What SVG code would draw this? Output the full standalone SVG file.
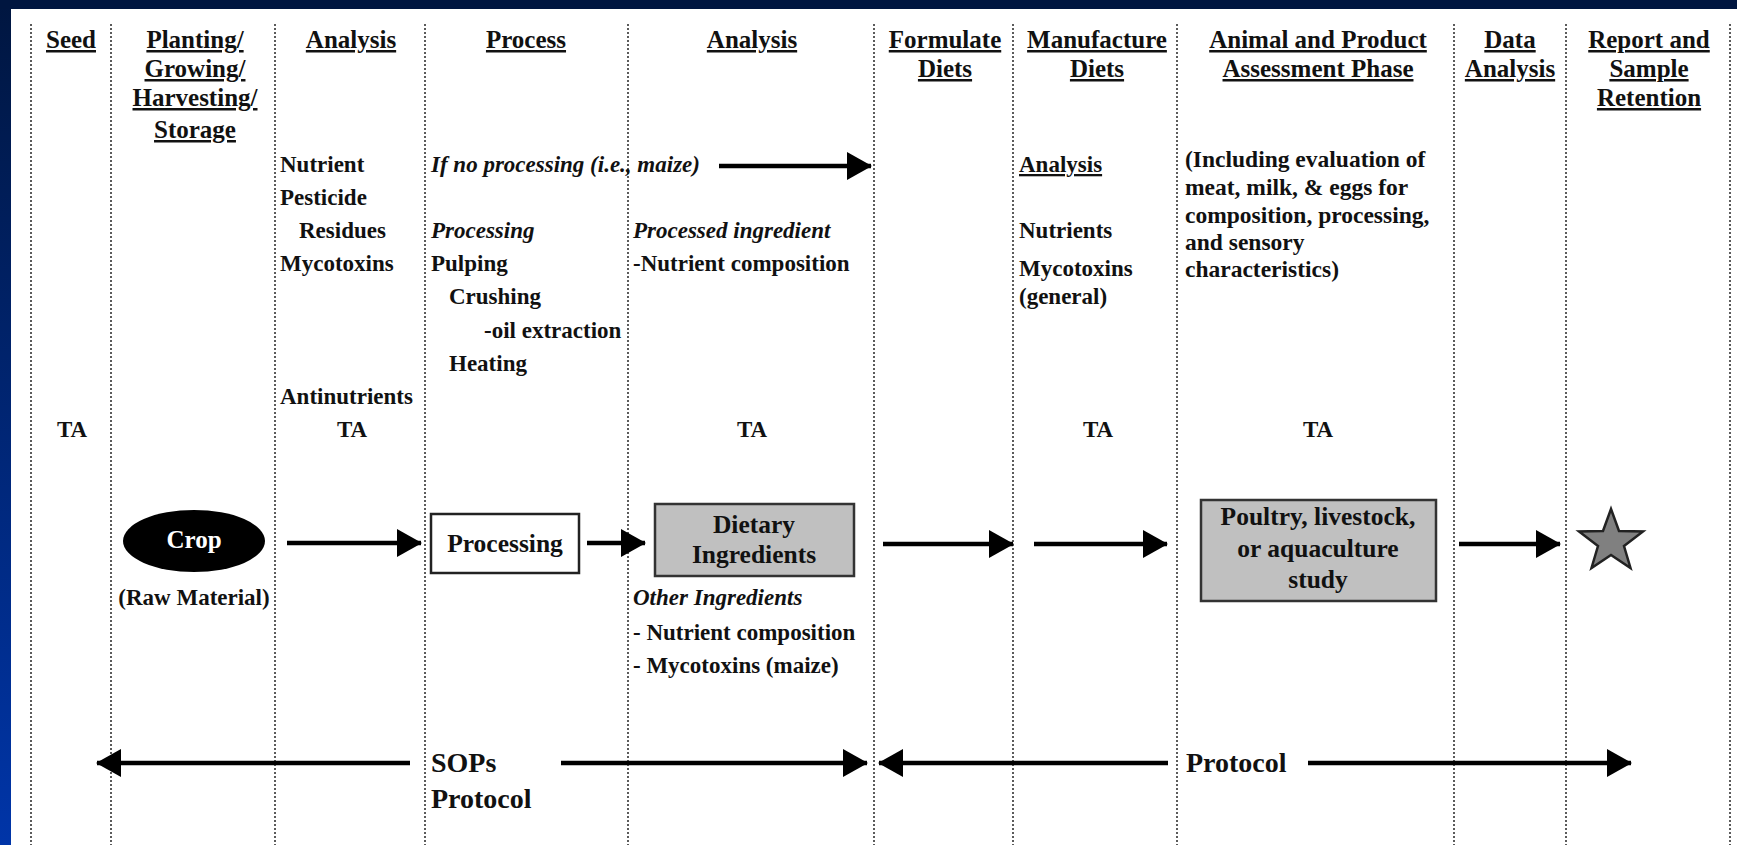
<svg xmlns="http://www.w3.org/2000/svg" width="1737" height="845" viewBox="0 0 1737 845">
<defs>
<linearGradient id="bg" x1="0" y1="0" x2="0" y2="1">
<stop offset="0" stop-color="#001640"/>
<stop offset="1" stop-color="#0035a8"/>
</linearGradient>
<marker id="ah" markerUnits="userSpaceOnUse" markerWidth="26" markerHeight="30" refX="24" refY="15" orient="auto">
<path d="M0,1 L25,15 L0,29 z" fill="#000"/>
</marker>
<style>
text{font-family:"Liberation Serif","Times New Roman",serif;font-weight:bold;fill:#111;}
.h{font-size:25px;text-anchor:middle;text-decoration:underline;}
.b{font-size:23px;}
.m{text-anchor:middle;}
.i{font-style:italic;}
.bx{font-size:25.5px;text-anchor:middle;}
.grid line{stroke:#333;stroke-width:1.6;stroke-dasharray:2 2;}
.conn line{stroke:#000;stroke-width:4.5;marker-end:url(#ah);}
.gbox{fill:#c0c0c0;stroke:#333;stroke-width:2.5;}
</style>
</defs>
<rect x="0" y="0" width="1737" height="845" fill="url(#bg)"/>
<rect x="0" y="0" width="1737" height="9" fill="#001640"/>
<rect x="11" y="9" width="1726" height="836" fill="#fff"/>

<g class="grid">
<line x1="31" y1="24" x2="31" y2="845"/>
<line x1="111" y1="24" x2="111" y2="845"/>
<line x1="275" y1="24" x2="275" y2="845"/>
<line x1="425" y1="24" x2="425" y2="845"/>
<line x1="628" y1="24" x2="628" y2="845"/>
<line x1="874" y1="24" x2="874" y2="845"/>
<line x1="1013" y1="24" x2="1013" y2="845"/>
<line x1="1177" y1="24" x2="1177" y2="845"/>
<line x1="1454" y1="24" x2="1454" y2="845"/>
<line x1="1566" y1="24" x2="1566" y2="845"/>
<line x1="1730" y1="24" x2="1730" y2="845"/>
</g>

<g id="headers">
<text class="h" x="71" y="48">Seed</text>
<text class="h" x="195" y="48">Planting/</text>
<text class="h" x="195" y="77">Growing/</text>
<text class="h" x="195" y="106">Harvesting/</text>
<text class="h" x="195" y="138">Storage</text>
<text class="h" x="351" y="48">Analysis</text>
<text class="h" x="526" y="48">Process</text>
<text class="h" x="752" y="48">Analysis</text>
<text class="h" x="945" y="48">Formulate</text>
<text class="h" x="945" y="77">Diets</text>
<text class="h" x="1097" y="48">Manufacture</text>
<text class="h" x="1097" y="77">Diets</text>
<text class="h" x="1318" y="48">Animal and Product</text>
<text class="h" x="1318" y="77">Assessment Phase</text>
<text class="h" x="1510" y="48">Data</text>
<text class="h" x="1510" y="77">Analysis</text>
<text class="h" x="1649" y="48">Report and</text>
<text class="h" x="1649" y="77">Sample</text>
<text class="h" x="1649" y="106">Retention</text>
</g>

<g id="analysis1-notes" class="b">
<text x="280" y="172">Nutrient</text>
<text x="280" y="205">Pesticide</text>
<text x="299" y="238">Residues</text>
<text x="280" y="271">Mycotoxins</text>
<text x="280" y="404">Antinutrients</text>
</g>

<g id="ta-labels" class="b">
<text class="m" x="72" y="437">TA</text>
<text class="m" x="352" y="437">TA</text>
<text class="m" x="752" y="437">TA</text>
<text class="m" x="1098" y="437">TA</text>
<text class="m" x="1318" y="437">TA</text>
</g>

<g id="process-notes" class="b">
<text class="i" x="431" y="172">If no processing (i.e., maize)</text>
<text class="i" x="431" y="238">Processing</text>
<text x="431" y="271">Pulping</text>
<text x="449" y="304">Crushing</text>
<text x="484" y="338">-oil extraction</text>
<text x="449" y="371">Heating</text>
</g>

<g id="analysis2-notes" class="b">
<text class="i" x="633" y="238">Processed ingredient</text>
<text x="633" y="271">-Nutrient composition</text>
<text class="i" x="633" y="605">Other Ingredients</text>
<text x="633" y="640">- Nutrient composition</text>
<text x="633" y="673">- Mycotoxins (maize)</text>
</g>

<g id="manufacture-notes" class="b">
<text x="1019" y="172" style="text-decoration:underline">Analysis</text>
<text x="1019" y="238">Nutrients</text>
<text x="1019" y="276">Mycotoxins</text>
<text x="1019" y="304">(general)</text>
</g>

<g id="animal-notes" class="b" style="font-size:23.5px">
<text x="1185" y="167">(Including evaluation of</text>
<text x="1185" y="195">meat, milk, &amp; eggs for</text>
<text x="1185" y="223">composition, processing,</text>
<text x="1185" y="250">and sensory</text>
<text x="1185" y="277">characteristics)</text>
</g>

<g id="crop">
<ellipse cx="194" cy="541" rx="71" ry="31" fill="#000"/>
<text class="bx" x="194" y="548" style="font-size:25px;fill:#fff">Crop</text>
<text class="b m" x="194" y="605">(Raw Material)</text>
</g>

<g id="processing">
<rect x="431" y="514" width="148" height="59" fill="#fff" stroke="#222" stroke-width="2.5"/>
<text class="bx" x="505" y="552">Processing</text>
</g>

<g id="dietary-ingredients">
<rect class="gbox" x="655" y="504" width="199" height="72"/>
<text class="bx" x="754" y="533">Dietary</text>
<text class="bx" x="754" y="563">Ingredients</text>
</g>

<g id="animal-study">
<rect class="gbox" x="1201" y="500" width="235" height="101"/>
<text class="bx" x="1318" y="525">Poultry, livestock,</text>
<text class="bx" x="1318" y="557">or aquaculture</text>
<text class="bx" x="1318" y="588">study</text>
</g>

<g id="report-star">
<polygon points="1611,509 1619,531 1643,531.5 1624,546 1630.5,568 1611,555 1591.5,568 1598,546 1579,531.5 1603,531" fill="#808080" stroke="#222" stroke-width="2.5" stroke-linejoin="miter"/>
</g>

<g id="sops-labels" style="font-size:28px">
<text x="431" y="772">SOPs</text>
<text x="431" y="808">Protocol</text>
<text x="1186" y="772">Protocol</text>
</g>

<g id="connectors" class="conn">
<line x1="719" y1="166" x2="871" y2="166"/>
<line x1="287" y1="543" x2="421" y2="543"/>
<line x1="587" y1="543" x2="645" y2="543"/>
<line x1="883" y1="544" x2="1013" y2="544"/>
<line x1="1034" y1="544" x2="1167" y2="544"/>
<line x1="1459" y1="544" x2="1560" y2="544"/>
<line x1="410" y1="763" x2="97" y2="763"/>
<line x1="561" y1="763" x2="867" y2="763"/>
<line x1="1168" y1="763" x2="879" y2="763"/>
<line x1="1308" y1="763" x2="1631" y2="763"/>
</g>
</svg>
